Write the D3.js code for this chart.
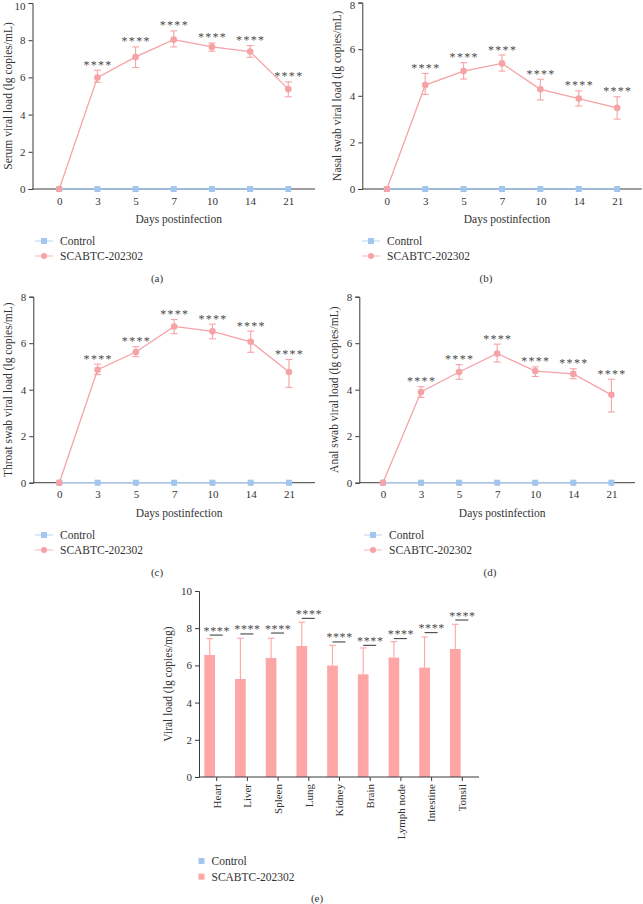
<!DOCTYPE html>
<html><head><meta charset="utf-8">
<script src="https://cdn.jsdelivr.net/npm/d3@7"></script>
<style>
html,body{margin:0;padding:0;background:#fff;}
text{font-family:"Liberation Serif","DejaVu Serif",serif;fill:#333;}
</style></head>
<body><svg id="c" width="643" height="904"></svg>
<script>
// ---------- DATA ----------
const days = ["0","3","5","7","10","14","21"];
const controlValues = [0,0,0,0,0,0,0];

const serumMean = [0, 5.99, 7.10, 8.03, 7.64, 7.39, 5.37];
const serumLow  = [0, 5.74, 6.53, 7.64, 7.41, 7.08, 4.96];
const serumHigh = [0, 6.39, 7.64, 8.50, 7.85, 7.71, 5.76];

const nasalMean = [0, 4.46, 5.06, 5.39, 4.28, 3.88, 3.48];
const nasalLow  = [0, 4.06, 4.72, 5.06, 3.82, 3.56, 3.00];
const nasalHigh = [0, 4.96, 5.42, 5.75, 4.71, 4.21, 3.96];

const throatMean = [0, 4.86, 5.62, 6.72, 6.51, 6.06, 4.76];
const throatLow  = [0, 4.65, 5.42, 6.41, 6.19, 5.61, 4.10];
const throatHigh = [0, 5.10, 5.85, 7.02, 6.82, 6.52, 5.30];

const analMean = [0, 3.90, 4.76, 5.56, 4.80, 4.68, 3.78];
const analLow  = [0, 3.67, 4.45, 5.19, 4.57, 4.47, 3.04];
const analHigh = [0, 4.13, 5.08, 5.96, 4.98, 4.90, 4.45];

const tissues = ["Heart","Liver","Spleen","Lung","Kidney","Brain","Lymph node","Intestine","Tonsil"];
const tissueMean = [6.56, 5.27, 6.40, 7.04, 5.99, 5.52, 6.42, 5.88, 6.88];
const tissueHigh = [7.44, 7.46, 7.46, 8.32, 7.08, 6.94, 7.28, 7.53, 8.21];
const tissueControl = [0,0,0,0,0,0,0,0,0];
const tissueSigLevel = [7.63, 7.69, 7.74, 8.53, 7.26, 7.08, 7.44, 7.76, 8.44];

const seriesNames = ["Control","SCABTC-202302"];
const sigLabel = "****";

// ---------- STYLE ----------
const PINK = "#f5a3a6", PINKBAR = "#fea5a5", BLUE = "#a2c6ee", AXIS = "#3a3a3a";
const FT = 11, FL = 11.5;
const svg = d3.select("#c");

function styleAxis(a){
  a.select(".domain").attr("stroke",AXIS).attr("stroke-width",1);
  a.selectAll(".tick line").attr("stroke",AXIS);
  a.selectAll(".tick text").attr("font-size",FT).attr("fill","#333")
    .style("font-family","Liberation Serif");
}

function linePanel(cfg){
  const g = svg.append("g");
  const x = d3.scalePoint().domain(days).range([cfg.x0, cfg.x1]).padding(cfg.pad);
  const y = d3.scaleLinear().domain([0, cfg.ymax]).range([cfg.yb, cfg.yt]);
  const ya = g.append("g").attr("transform",`translate(${cfg.x0},0)`)
    .call(d3.axisLeft(y).ticks(cfg.ymax/2).tickSize(4).tickPadding(3));
  const xa = g.append("g").attr("transform",`translate(0,${cfg.yb})`)
    .call(d3.axisBottom(x).tickSize(3).tickPadding(5));
  styleAxis(ya); styleAxis(xa);
  // keep the top tick label inside the page
  ya.selectAll(".tick text").filter(d=>d===cfg.ymax && cfg.yt<10).attr("dy","0.55em");
  xa.select(".domain").attr("d",`M${cfg.x0},0H${cfg.x1}`);
  g.append("text").attr("x",(cfg.x0+cfg.x1)/2 + 5).attr("y",cfg.yb+34)
    .attr("text-anchor","middle").attr("font-size",FL).text("Days postinfection");
  g.append("text").attr("transform",`translate(${cfg.x0-21},${(cfg.yt+cfg.yb)/2}) rotate(-90)`)
    .attr("text-anchor","middle").attr("font-size",FL).text(cfg.ylabel);
  const line = d3.line().x((d,i)=>x(days[i])).y(d=>y(d));
  g.append("path").datum(controlValues).attr("d",line).attr("fill","none")
    .attr("stroke",BLUE).attr("stroke-width",1.3);
  g.selectAll(".sq").data(controlValues).join("rect")
    .attr("x",(d,i)=>x(days[i])-3).attr("y",d=>y(d)-3).attr("width",6).attr("height",6)
    .attr("fill",BLUE);
  g.append("path").datum(cfg.mean).attr("d",line).attr("fill","none")
    .attr("stroke",PINK).attr("stroke-width",1.3);
  cfg.mean.forEach((m,i)=>{
    if(i===0) return;
    const cx = x(days[i]);
    g.append("line").attr("x1",cx).attr("x2",cx).attr("y1",y(cfg.low[i])).attr("y2",y(cfg.high[i]))
      .attr("stroke",PINK).attr("stroke-width",1.1);
    [cfg.low[i],cfg.high[i]].forEach(v=>g.append("line").attr("x1",cx-3.5).attr("x2",cx+3.5)
      .attr("y1",y(v)).attr("y2",y(v)).attr("stroke",PINK).attr("stroke-width",1.1));
    g.append("text").attr("x",cx+0.6).attr("y",y(cfg.high[i])-1.5).attr("text-anchor","middle")
      .attr("font-size",12).attr("letter-spacing",1.3).style("fill","#4a4a4a")
      .text(sigLabel);
  });
  g.selectAll(".dot").data(cfg.mean).join("circle")
    .attr("cx",(d,i)=>x(days[i])).attr("cy",d=>y(d)).attr("r",3.3).attr("fill",PINK);
  const lx = cfg.legX;
  seriesNames.forEach((n,k)=>{
    const ly = cfg.legY + k*15;
    g.append("line").attr("x1",lx).attr("x2",lx+18).attr("y1",ly).attr("y2",ly)
      .attr("stroke",k?PINK:BLUE).attr("stroke-opacity",0.6).attr("stroke-width",1.3);
    if(k===0) g.append("rect").attr("x",lx+6).attr("y",ly-3).attr("width",6).attr("height",6).attr("fill",BLUE);
    else g.append("circle").attr("cx",lx+9).attr("cy",ly).attr("r",3).attr("fill",PINK);
    g.append("text").attr("x",lx+25).attr("y",ly+4).attr("font-size",FL).text(n);
  });
  g.append("text").attr("x",cfg.capX).attr("y",cfg.capY).attr("text-anchor","middle")
    .attr("font-size",FT).text(cfg.cap);
}

linePanel({x0:32.5,x1:315,pad:0.7,yt:3,yb:189,ymax:10,mean:serumMean,low:serumLow,high:serumHigh,
  ylabel:"Serum viral load (lg copies/mL)",legX:35,legY:241,cap:"(a)",capX:157,capY:282});
linePanel({x0:362.3,x1:641.7,pad:0.64,yt:2.6,yb:189,ymax:8,mean:nasalMean,low:nasalLow,high:nasalHigh,
  ylabel:"Nasal swab viral load (lg copies/mL)",legX:362,legY:241,cap:"(b)",capX:486,capY:282});
linePanel({x0:33.3,x1:315,pad:0.68,yt:296.7,yb:482.7,ymax:8,mean:throatMean,low:throatLow,high:throatHigh,
  ylabel:"Throat swab viral load (lg copies/mL)",legX:35,legY:535,cap:"(c)",capX:157,capY:576});
linePanel({x0:359.3,x1:635,pad:0.62,yt:296.7,yb:482.7,ymax:8,mean:analMean,low:analLow,high:analHigh,
  ylabel:"Anal swab viral load (lg copies/mL)",legX:364,legY:535,cap:"(d)",capX:490,capY:576});

// ---------- PANEL E ----------
(function(){
  const g = svg.append("g");
  const x0=199, x1=479, yb=777, yt=591;
  const x = d3.scalePoint().domain(tissues).range([x0,x1]).padding(0.56);
  const y = d3.scaleLinear().domain([0,10]).range([yb,yt]);
  const off = 6.5, bw = 10.7;
  g.selectAll(".bar").data(tissueMean).join("rect")
    .attr("x",(d,i)=>x(tissues[i])-off-bw/2).attr("width",bw)
    .attr("y",d=>y(d)).attr("height",d=>yb-y(d)).attr("fill",PINKBAR);
  g.selectAll(".cbar").data(tissueControl).join("rect")
    .attr("x",(d,i)=>x(tissues[i])+off-bw/2).attr("width",bw)
    .attr("y",d=>y(d)).attr("height",d=>yb-y(d)).attr("fill",BLUE);
  tissueHigh.forEach((h,i)=>{
    const cx = x(tissues[i])-off;
    g.append("line").attr("x1",cx).attr("x2",cx).attr("y1",y(tissueMean[i])).attr("y2",y(h))
      .attr("stroke",PINKBAR).attr("stroke-width",1.1);
    g.append("line").attr("x1",cx-3.3).attr("x2",cx+3.3).attr("y1",y(h)).attr("y2",y(h))
      .attr("stroke",PINKBAR).attr("stroke-width",1.1);
    const sy = y(tissueSigLevel[i]);
    g.append("line").attr("x1",cx).attr("x2",x(tissues[i])+off).attr("y1",sy).attr("y2",sy)
      .attr("stroke","#333").attr("stroke-width",1);
    g.append("text").attr("x",x(tissues[i])+0.6).attr("y",sy-0.5).attr("text-anchor","middle")
      .attr("font-size",12).attr("letter-spacing",0.6).style("fill","#4a4a4a").text(sigLabel);
  });
  const ya = g.append("g").attr("transform",`translate(${x0},0)`)
    .call(d3.axisLeft(y).ticks(5).tickSize(4).tickPadding(3));
  const xa = g.append("g").attr("transform",`translate(0,${yb})`)
    .call(d3.axisBottom(x).tickSize(4).tickPadding(4));
  styleAxis(ya); styleAxis(xa);
  xa.select(".domain").attr("d",`M${x0},0H${x1}`);
  xa.selectAll(".tick text").attr("transform","rotate(-90)").attr("text-anchor","end")
    .attr("dy","0.35em").attr("x",-7).attr("y",0);
  g.append("text").attr("transform",`translate(${x0-27},${(yt+yb)/2}) rotate(-90)`)
    .attr("text-anchor","middle").attr("font-size",FL).text("Viral load (lg copies/mg)");
  seriesNames.forEach((n,k)=>{
    const ly = 861 + k*15.7;
    g.append("rect").attr("x",198.5).attr("y",ly-3).attr("width",6).attr("height",6).attr("fill",k?PINKBAR:BLUE);
    g.append("text").attr("x",211.5).attr("y",ly+4).attr("font-size",FL).text(n);
  });
  g.append("text").attr("x",317).attr("y",901.5).attr("text-anchor","middle").attr("font-size",FT).text("(e)");
})();
</script></body></html>
